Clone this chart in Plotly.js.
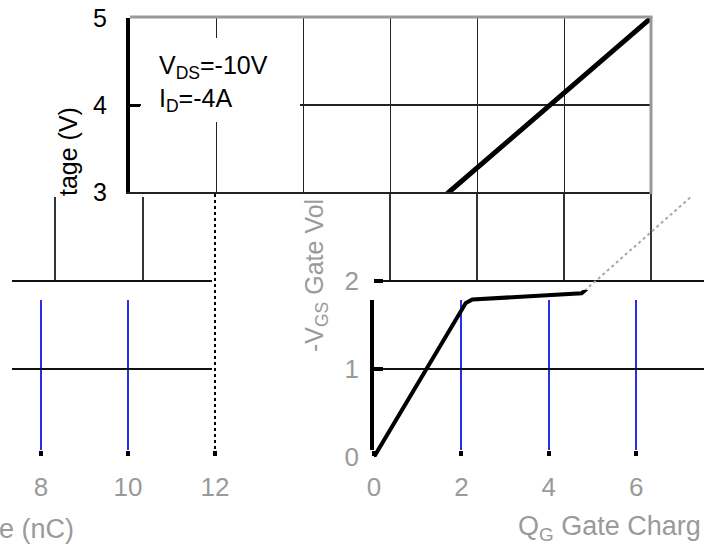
<!DOCTYPE html>
<html>
<head>
<meta charset="utf-8">
<script src="https://cdn.plot.ly/plotly-3.0.1.min.js"></script>
<style>
  html, body { margin: 0; padding: 0; background: #fff; }
  #chart { width: 704px; height: 548px; }
</style>
</head>
<body>
<div id="chart"></div>
<script>
// ---- data ----
const qCharge = [0, 2.1, 2.25, 3.0, 4.0, 4.75, 7.35, 12];      // Q_G (nC)
const vGate   = [0, 1.75, 1.79, 1.81, 1.83, 1.86, 3.0, 5];     // -V_GS (V)
const xTicks  = [0, 2, 4, 6, 8, 10, 12];
const yTicks  = [0, 1, 2, 3, 4, 5];
const condText = 'V<sub>DS</sub>=-10V<br>I<sub>D</sub>=-4A';
const yTitleTop = 'tage (V)';
const yTitleBottom = '-V<sub>GS</sub> Gate Vol';
const xTitleRight = 'Q<sub>G</sub> Gate Charg';
const xTitleLeft = 'e (nC)';

// ---- layout helpers (pixel -> paper) ----
const W = 704, H = 548;
const fx = p => p / W;
const fy = p => 1 - p / H;
const dx = (a, b) => [fx(a), fx(b)];
const dy = (top, bottom) => [fy(bottom), fy(top)];
const FONT = 'Liberation Sans, Arial, sans-serif';
const GRAY = '#9a9a9a';
const BLUE = '#2630e8';

function hidden(extra) {
  return Object.assign({visible: false, fixedrange: true}, extra);
}
function base(extra) {
  return Object.assign({showgrid: false, zeroline: false, showline: false,
    showticklabels: false, ticks: '', fixedrange: true}, extra);
}

const data = [
  {x: qCharge, y: vGate, xaxis: 'x', yaxis: 'y', mode: 'lines',
   line: {color: '#000', width: 5}},
  {x: [], y: [], xaxis: 'x2', yaxis: 'y2', mode: 'lines'},
  {x: [], y: [], xaxis: 'x3', yaxis: 'y3', mode: 'lines'},
  {x: [], y: [], xaxis: 'x4', yaxis: 'y4', mode: 'lines'},
  {x: [], y: [], xaxis: 'x5', yaxis: 'y5', mode: 'lines'},
  {x: [], y: [], xaxis: 'x6', yaxis: 'y6', mode: 'lines'},
  {x: [], y: [], xaxis: 'x7', yaxis: 'y7', mode: 'lines'},
  {x: [], y: [], xaxis: 'x8', yaxis: 'y8', mode: 'lines'},
  {x: qCharge, y: vGate, xaxis: 'x9', yaxis: 'y9', mode: 'lines',
   line: {color: '#000', width: 4}},
  {x: qCharge, y: vGate, xaxis: 'x10', yaxis: 'y10', mode: 'lines',
   line: {color: '#a8a8a8', width: 2, dash: 'dot'}}
];

const labelFontBlack = {family: FONT, size: 25, color: '#000'};
const labelFontGray = {family: FONT, size: 26, color: GRAY};
const titleFontGray = {family: FONT, size: 27, color: GRAY};
const yTitleFontGray = {family: FONT, size: 25, color: GRAY};

const layout = {
  width: W, height: H,
  margin: {l: 0, r: 0, t: 0, b: 0},
  paper_bgcolor: '#fff',
  plot_bgcolor: 'rgba(0,0,0,0)',
  showlegend: false,
  // top band
  xaxis: base({domain: dx(130, 651), anchor: 'y', range: [0, 12], tickvals: xTicks,
    showgrid: true, gridcolor: '#222', gridwidth: 1.3,
    showline: true, linecolor: '#222', linewidth: 1.5}),
  yaxis: base({domain: dy(18, 192), anchor: 'x', range: [3, 5], tickvals: yTicks,
    showgrid: true, gridcolor: '#222', gridwidth: 1.3,
    showline: true, linecolor: '#000', linewidth: 4,
    ticks: 'inside', ticklen: 10, tickwidth: 3, tickcolor: '#000',
    showticklabels: true, tickfont: labelFontBlack, ticklabelstandoff: 14}),
  // middle band right grid
  xaxis2: base({domain: dx(385.7, 655.3), anchor: 'y2', range: [5.9, 12.1], tickvals: xTicks,
    showgrid: true, gridcolor: '#333', gridwidth: 1.3}),
  yaxis2: hidden({domain: dy(194, 281), anchor: 'x2', range: [0, 1]}),
  // middle band left grid
  xaxis3: base({domain: dx(12, 215), anchor: 'y3', range: [7.023, 11.636], tickvals: xTicks,
    showgrid: true, gridcolor: '#333', gridwidth: 1.3}),
  yaxis3: hidden({domain: dy(197, 280), anchor: 'x3', range: [0, 1]}),
  // bottom-left blue grid + ticks
  xaxis4: base({domain: dx(12, 212), anchor: 'y4', range: [7.333, 11.931], tickvals: xTicks,
    showgrid: true, gridcolor: BLUE, gridwidth: 2,
    ticks: 'outside', ticklen: 5, tickwidth: 4, tickcolor: '#000',
    showticklabels: true, tickfont: labelFontGray, ticklabelstandoff: 9}),
  yaxis4: hidden({domain: dy(300, 450), anchor: 'x4', range: [0, 1]}),
  // bottom-left horizontal grid
  xaxis5: hidden({domain: dx(12, 212), anchor: 'y5', range: [0, 1]}),
  yaxis5: base({domain: dy(197, 457), anchor: 'x5', range: [0, 2.955], tickvals: yTicks,
    showgrid: true, gridcolor: '#111', gridwidth: 1.5,
    zeroline: true, zerolinecolor: 'rgba(0,0,0,0)'}),
  // bottom-right blue grid + ticks + axis line
  xaxis6: base({domain: dx(374, 704), anchor: 'y6', range: [0, 7.55], tickvals: xTicks,
    showgrid: true, gridcolor: BLUE, gridwidth: 2,
    ticks: 'outside', ticklen: 5, tickwidth: 4, tickcolor: '#000',
    showticklabels: true, tickfont: labelFontGray, ticklabelstandoff: 9}),
  yaxis6: base({domain: dy(300, 450), anchor: 'x6', range: [0, 1],
    showline: true, linecolor: '#000', linewidth: 4}),
  // dotted right border of the bottom-left part
  xaxis7: base({domain: dx(205, 225), anchor: 'y7', range: [11.77, 12.23], tickvals: xTicks,
    showgrid: true, gridcolor: '#000', gridwidth: 1.5, griddash: 'dot',
    ticks: 'outside', ticklen: 5, tickwidth: 4, tickcolor: '#000',
    showticklabels: true, tickfont: labelFontGray, ticklabelstandoff: 9}),
  yaxis7: hidden({domain: dy(194, 450), anchor: 'x7', range: [0, 1]}),
  // bottom-right horizontal grid + labels 0,1,2
  xaxis8: hidden({domain: dx(374, 704), anchor: 'y8', range: [0, 7.55]}),
  yaxis8: base({domain: dy(197, 457), anchor: 'x8', range: [0, 2.955], tickvals: yTicks,
    showgrid: true, gridcolor: '#111', gridwidth: 1.5,
    zeroline: true, zerolinecolor: 'rgba(0,0,0,0)',
    ticks: 'inside', ticklen: 9, tickwidth: 4, tickcolor: '#000',
    showticklabels: true, tickfont: labelFontGray, ticklabelstandoff: 14}),
  // bottom-right curve (solid)
  xaxis9: hidden({domain: dx(374, 704), anchor: 'y9', range: [0, 7.55]}),
  yaxis9: hidden({domain: dy(290, 457), anchor: 'x9', range: [0, 1.898]}),
  // bottom-right curve (faint part in middle band)
  xaxis10: hidden({domain: dx(374, 704), anchor: 'y10', range: [0, 7.55]}),
  yaxis10: hidden({domain: dy(197, 290), anchor: 'x10', range: [1.898, 2.955]}),
  shapes: [
    {type: 'rect', xref: 'paper', yref: 'paper', x0: fx(141), x1: fx(300), y0: fy(122), y1: fy(38),
     fillcolor: '#fff', line: {width: 0}, layer: 'above'},
    {type: 'line', xref: 'paper', yref: 'paper', x0: fx(130), x1: fx(652.5), y0: fy(17), y1: fy(17),
     line: {color: '#999', width: 3}, layer: 'above'},
    {type: 'line', xref: 'paper', yref: 'paper', x0: fx(651), x1: fx(651), y0: fy(17), y1: fy(194),
     line: {color: '#999', width: 3}, layer: 'above'}
  ],
  annotations: [
    {text: condText, xref: 'paper', yref: 'paper', x: fx(157), y: fy(49),
     xanchor: 'left', yanchor: 'top', align: 'left', showarrow: false, font: labelFontBlack},
    {text: yTitleTop, xref: 'paper', yref: 'paper', x: fx(68), y: fy(152), textangle: -90,
     xanchor: 'center', yanchor: 'middle', showarrow: false, font: labelFontBlack},
    {text: yTitleBottom, xref: 'paper', yref: 'paper', x: fx(316), y: fy(276), textangle: -90,
     xanchor: 'center', yanchor: 'middle', showarrow: false, font: yTitleFontGray},
    {text: xTitleRight, xref: 'paper', yref: 'paper', x: fx(516), y: fy(528),
     xanchor: 'left', yanchor: 'middle', showarrow: false, font: titleFontGray},
    {text: xTitleLeft, xref: 'paper', yref: 'paper', x: fx(76), y: fy(529),
     xanchor: 'right', yanchor: 'middle', showarrow: false, font: titleFontGray}
  ]
};

Plotly.newPlot('chart', data, layout, {staticPlot: true, displayModeBar: false});
</script>
</body>
</html>
